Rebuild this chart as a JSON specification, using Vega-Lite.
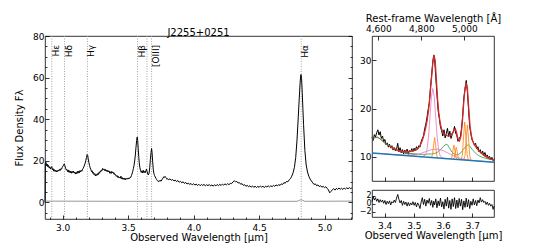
{
"$schema": "https://vega.github.io/schema/vega-lite/v6.json",
"padding": {"left": 14, "top": 12, "right": 5, "bottom": 5},
"config": {
 "font": "DejaVu Sans",
 "view": {"stroke": "black", "strokeWidth": 0.8},
 "axis": {"grid": false, "domain": false, "tickColor": "black", "tickWidth": 0.8, "labelFontSize": 9, "titleFontSize": 10, "titleFontWeight": "normal", "labelColor": "black", "titleColor": "black", "labelPadding": 2, "labelFont": "DejaVu Sans", "titleFont": "DejaVu Sans", "labelFlush": false, "labelOverlap": false},
 "title": {"font": "DejaVu Sans", "fontWeight": "normal", "fontSize": 10, "color": "black"}
},
"datasets": {
 "lines": [{"wl":2.917},{"wl":3.014},{"wl":3.189},{"wl":3.572},{"wl":3.644},{"wl":3.679},{"wl":4.822}],
 "labels": [{"wl":2.917,"t":"Hε"},{"wl":3.014,"t":"Hδ"},{"wl":3.189,"t":"Hγ"},{"wl":3.572,"t":"Hβ"},{"wl":3.679,"t":"[OIII]"},{"wl":4.822,"t":"Hα"}],
 "err": [{"wl":2.865,"f":0.6},{"wl":3.5,"f":0.5},{"wl":4.79,"f":0.5},{"wl":4.82,"f":1.3},{"wl":4.85,"f":0.5},{"wl":5.21,"f":0.6}],
 "spec": [
{"wl":2.865,"f":0},{"wl":2.867,"f":18.6},{"wl":2.872,"f":19.3},{"wl":2.877,"f":17.6},{"wl":2.882,"f":18.4},{"wl":2.887,"f":17.1},{"wl":2.892,"f":17.8},{"wl":2.897,"f":16.5},{"wl":2.902,"f":17.1},{"wl":2.907,"f":16.0},{"wl":2.912,"f":16.7},{"wl":2.917,"f":17.2},{"wl":2.922,"f":15.6},{"wl":2.927,"f":16.2},{"wl":2.932,"f":15.0},{"wl":2.937,"f":15.7},{"wl":2.942,"f":14.9},{"wl":2.947,"f":15.5},{"wl":2.952,"f":14.6},{"wl":2.957,"f":15.3},{"wl":2.962,"f":14.8},{"wl":2.967,"f":15.6},{"wl":2.972,"f":15.1},{"wl":2.977,"f":15.9},{"wl":2.982,"f":15.4},{"wl":2.987,"f":16.3},{"wl":2.992,"f":16.0},{"wl":2.997,"f":16.9},{"wl":3.002,"f":17.4},{"wl":3.007,"f":17.9},{"wl":3.012,"f":18.5},{"wl":3.017,"f":17.6},{"wl":3.022,"f":16.4},{"wl":3.027,"f":15.6},{"wl":3.032,"f":15.9},{"wl":3.037,"f":14.8},{"wl":3.042,"f":15.6},{"wl":3.047,"f":14.5},{"wl":3.052,"f":15.2},{"wl":3.057,"f":14.2},{"wl":3.062,"f":15.0},{"wl":3.067,"f":14.0},{"wl":3.072,"f":14.9},{"wl":3.077,"f":14.3},{"wl":3.082,"f":15.1},{"wl":3.087,"f":14.1},{"wl":3.092,"f":14.6},{"wl":3.097,"f":13.6},{"wl":3.102,"f":14.4},{"wl":3.107,"f":13.8},{"wl":3.112,"f":14.9},{"wl":3.117,"f":14.0},{"wl":3.122,"f":15.0},{"wl":3.127,"f":14.2},{"wl":3.132,"f":15.3},{"wl":3.137,"f":14.6},{"wl":3.142,"f":15.4},{"wl":3.147,"f":15.0},{"wl":3.152,"f":16.0},{"wl":3.157,"f":16.4},{"wl":3.162,"f":17.1},{"wl":3.167,"f":18.0},{"wl":3.172,"f":18.9},{"wl":3.177,"f":20.2},{"wl":3.182,"f":21.6},{"wl":3.187,"f":23.0},{"wl":3.191,"f":22.6},{"wl":3.195,"f":21.0},{"wl":3.200,"f":19.3},{"wl":3.205,"f":17.8},{"wl":3.210,"f":16.6},{"wl":3.215,"f":15.9},{"wl":3.220,"f":14.8},{"wl":3.225,"f":15.2},{"wl":3.230,"f":14.0},{"wl":3.235,"f":14.4},{"wl":3.240,"f":13.3},{"wl":3.245,"f":13.8},{"wl":3.250,"f":12.7},{"wl":3.255,"f":13.5},{"wl":3.260,"f":12.9},{"wl":3.265,"f":13.8},{"wl":3.270,"f":13.2},{"wl":3.275,"f":14.3},{"wl":3.280,"f":14.0},{"wl":3.285,"f":14.9},{"wl":3.290,"f":14.6},{"wl":3.295,"f":15.6},{"wl":3.300,"f":15.2},{"wl":3.305,"f":16.3},{"wl":3.310,"f":15.7},{"wl":3.315,"f":16.1},{"wl":3.320,"f":15.3},{"wl":3.325,"f":15.9},{"wl":3.330,"f":15.1},{"wl":3.335,"f":15.6},{"wl":3.340,"f":14.7},{"wl":3.345,"f":15.4},{"wl":3.350,"f":14.6},{"wl":3.355,"f":15.1},{"wl":3.360,"f":14.0},{"wl":3.365,"f":14.7},{"wl":3.370,"f":13.9},{"wl":3.375,"f":14.9},{"wl":3.380,"f":14.2},{"wl":3.385,"f":14.6},{"wl":3.390,"f":13.7},{"wl":3.395,"f":14.0},{"wl":3.400,"f":13.1},{"wl":3.405,"f":13.3},{"wl":3.410,"f":12.5},{"wl":3.415,"f":12.9},{"wl":3.420,"f":12.0},{"wl":3.425,"f":12.5},{"wl":3.430,"f":11.8},{"wl":3.435,"f":12.2},{"wl":3.440,"f":11.6},{"wl":3.445,"f":12.6},{"wl":3.450,"f":11.4},{"wl":3.455,"f":11.9},{"wl":3.460,"f":11.1},{"wl":3.465,"f":11.6},{"wl":3.470,"f":11.0},{"wl":3.475,"f":11.7},{"wl":3.480,"f":10.9},{"wl":3.485,"f":11.5},{"wl":3.490,"f":11.1},{"wl":3.495,"f":11.6},{"wl":3.500,"f":11.2},{"wl":3.505,"f":11.7},{"wl":3.510,"f":11.5},{"wl":3.515,"f":12.1},{"wl":3.520,"f":12.0},{"wl":3.525,"f":12.9},{"wl":3.530,"f":13.7},{"wl":3.535,"f":14.9},{"wl":3.540,"f":16.2},{"wl":3.545,"f":17.8},{"wl":3.550,"f":19.9},{"wl":3.555,"f":22.8},{"wl":3.560,"f":26.5},{"wl":3.565,"f":29.8},{"wl":3.569,"f":31.4},{"wl":3.573,"f":29.6},{"wl":3.577,"f":25.8},{"wl":3.581,"f":22.0},{"wl":3.585,"f":19.0},{"wl":3.590,"f":16.6},{"wl":3.595,"f":15.3},{"wl":3.600,"f":14.4},{"wl":3.605,"f":15.2},{"wl":3.610,"f":14.1},{"wl":3.615,"f":15.4},{"wl":3.620,"f":14.3},{"wl":3.625,"f":14.9},{"wl":3.630,"f":14.2},{"wl":3.635,"f":15.1},{"wl":3.640,"f":16.0},{"wl":3.645,"f":14.8},{"wl":3.650,"f":13.6},{"wl":3.655,"f":13.2},{"wl":3.660,"f":14.1},{"wl":3.665,"f":16.6},{"wl":3.670,"f":20.6},{"wl":3.675,"f":24.0},{"wl":3.679,"f":25.9},{"wl":3.683,"f":23.8},{"wl":3.687,"f":19.8},{"wl":3.692,"f":15.9},{"wl":3.697,"f":13.8},{"wl":3.702,"f":12.9},{"wl":3.707,"f":12.2},{"wl":3.712,"f":11.6},{"wl":3.717,"f":11.0},{"wl":3.722,"f":10.6},{"wl":3.727,"f":10.2},{"wl":3.732,"f":10.0},{"wl":3.737,"f":10.5},{"wl":3.742,"f":10.1},{"wl":3.747,"f":10.6},{"wl":3.752,"f":10.2},{"wl":3.757,"f":10.8},{"wl":3.762,"f":11.3},{"wl":3.767,"f":11.7},{"wl":3.772,"f":12.3},{"wl":3.777,"f":12.0},{"wl":3.782,"f":12.5},{"wl":3.787,"f":12.0},{"wl":3.792,"f":11.6},{"wl":3.797,"f":11.1},
{"wl":3.80,"f":11.4},{"wl":3.81,"f":10.9},{"wl":3.82,"f":11.3},{"wl":3.83,"f":10.6},{"wl":3.84,"f":11.0},{"wl":3.85,"f":10.3},{"wl":3.86,"f":10.7},{"wl":3.87,"f":10.0},{"wl":3.88,"f":10.5},{"wl":3.89,"f":9.7},{"wl":3.90,"f":10.1},{"wl":3.91,"f":9.4},{"wl":3.92,"f":9.9},{"wl":3.93,"f":9.1},{"wl":3.94,"f":9.6},{"wl":3.95,"f":8.8},{"wl":3.96,"f":9.3},{"wl":3.97,"f":8.6},{"wl":3.98,"f":9.1},{"wl":3.99,"f":8.4},{"wl":4.00,"f":9.0},{"wl":4.01,"f":8.3},{"wl":4.02,"f":8.8},{"wl":4.03,"f":8.1},{"wl":4.04,"f":8.7},{"wl":4.05,"f":8.0},{"wl":4.06,"f":8.6},{"wl":4.07,"f":8.1},{"wl":4.08,"f":8.7},{"wl":4.09,"f":7.9},{"wl":4.10,"f":8.5},{"wl":4.11,"f":8.0},{"wl":4.12,"f":8.6},{"wl":4.13,"f":7.9},{"wl":4.14,"f":8.4},{"wl":4.15,"f":7.8},{"wl":4.16,"f":8.5},{"wl":4.17,"f":7.9},{"wl":4.18,"f":8.6},{"wl":4.19,"f":8.0},{"wl":4.20,"f":8.7},{"wl":4.21,"f":8.1},{"wl":4.22,"f":8.8},{"wl":4.23,"f":8.3},{"wl":4.24,"f":8.9},{"wl":4.25,"f":8.4},{"wl":4.26,"f":9.0},{"wl":4.27,"f":8.5},{"wl":4.28,"f":9.1},{"wl":4.29,"f":9.0},{"wl":4.30,"f":9.8},{"wl":4.31,"f":10.4},{"wl":4.32,"f":9.9},{"wl":4.33,"f":10.1},{"wl":4.34,"f":9.3},{"wl":4.35,"f":9.5},{"wl":4.36,"f":8.7},{"wl":4.37,"f":9.0},{"wl":4.38,"f":8.2},{"wl":4.39,"f":8.5},{"wl":4.40,"f":7.7},{"wl":4.41,"f":8.2},{"wl":4.42,"f":7.5},{"wl":4.43,"f":8.0},{"wl":4.44,"f":7.3},{"wl":4.45,"f":7.9},{"wl":4.46,"f":7.2},{"wl":4.47,"f":7.8},{"wl":4.48,"f":7.1},{"wl":4.49,"f":7.7},{"wl":4.50,"f":7.2},{"wl":4.51,"f":7.9},{"wl":4.52,"f":7.3},{"wl":4.53,"f":7.8},{"wl":4.54,"f":7.1},{"wl":4.55,"f":7.8},{"wl":4.56,"f":7.4},{"wl":4.57,"f":8.0},{"wl":4.58,"f":7.4},{"wl":4.59,"f":8.0},{"wl":4.60,"f":7.5},{"wl":4.61,"f":8.2},{"wl":4.62,"f":7.7},{"wl":4.63,"f":8.4},{"wl":4.64,"f":7.9},{"wl":4.65,"f":8.6},{"wl":4.66,"f":8.1},{"wl":4.67,"f":8.9},{"wl":4.68,"f":8.6},{"wl":4.69,"f":9.5},{"wl":4.70,"f":9.2},{"wl":4.71,"f":10.1},{"wl":4.72,"f":9.9},{"wl":4.73,"f":10.8},{"wl":4.74,"f":11.4},{"wl":4.75,"f":12.6},{"wl":4.76,"f":14.2},{"wl":4.77,"f":16.8},{"wl":4.78,"f":21.5},{"wl":4.79,"f":30.0},{"wl":4.80,"f":41.5},{"wl":4.81,"f":53.5},{"wl":4.815,"f":58.8},{"wl":4.82,"f":61.5},{"wl":4.825,"f":59.5},{"wl":4.83,"f":52.5},{"wl":4.835,"f":45.0},{"wl":4.84,"f":37.5},{"wl":4.85,"f":25.0},{"wl":4.86,"f":18.0},{"wl":4.87,"f":14.6},{"wl":4.88,"f":12.6},{"wl":4.89,"f":11.2},{"wl":4.90,"f":10.3},{"wl":4.91,"f":9.4},{"wl":4.92,"f":8.6},{"wl":4.93,"f":8.9},{"wl":4.94,"f":8.0},{"wl":4.95,"f":8.4},{"wl":4.96,"f":7.6},{"wl":4.97,"f":8.0},{"wl":4.98,"f":7.3},{"wl":4.99,"f":7.7},{"wl":5.00,"f":7.1},{"wl":5.01,"f":7.5},{"wl":5.02,"f":6.8},{"wl":5.03,"f":6.0},{"wl":5.04,"f":4.6},{"wl":5.05,"f":5.3},{"wl":5.06,"f":6.1},{"wl":5.07,"f":6.6},{"wl":5.08,"f":5.9},{"wl":5.09,"f":6.7},{"wl":5.10,"f":6.2},{"wl":5.11,"f":6.9},{"wl":5.12,"f":6.3},{"wl":5.13,"f":6.8},{"wl":5.14,"f":6.2},{"wl":5.15,"f":6.9},{"wl":5.16,"f":6.4},{"wl":5.17,"f":7.0},{"wl":5.18,"f":6.5},{"wl":5.19,"f":7.1},{"wl":5.20,"f":6.6},{"wl":5.21,"f":7.0}
 ],
 "rspec": [
{"wl":3.357,"f":14.0},{"wl":3.361,"f":13.4},{"wl":3.365,"f":14.6},{"wl":3.369,"f":14.1},{"wl":3.373,"f":15.0},{"wl":3.377,"f":15.6},{"wl":3.381,"f":14.5},{"wl":3.385,"f":15.2},{"wl":3.389,"f":13.8},{"wl":3.393,"f":14.3},{"wl":3.397,"f":13.1},{"wl":3.401,"f":13.6},{"wl":3.405,"f":12.5},{"wl":3.409,"f":12.9},{"wl":3.413,"f":12.0},{"wl":3.417,"f":12.6},{"wl":3.421,"f":11.8},{"wl":3.425,"f":12.3},{"wl":3.429,"f":11.4},{"wl":3.433,"f":11.9},{"wl":3.437,"f":11.2},{"wl":3.441,"f":11.6},{"wl":3.445,"f":12.8},{"wl":3.449,"f":11.0},{"wl":3.453,"f":11.9},{"wl":3.457,"f":10.8},{"wl":3.461,"f":11.5},{"wl":3.465,"f":10.6},{"wl":3.469,"f":11.4},{"wl":3.473,"f":10.7},{"wl":3.477,"f":11.6},{"wl":3.481,"f":10.5},{"wl":3.485,"f":11.3},{"wl":3.489,"f":11.0},{"wl":3.493,"f":11.7},{"wl":3.497,"f":11.1},{"wl":3.501,"f":11.8},{"wl":3.505,"f":11.3},{"wl":3.509,"f":12.1},{"wl":3.513,"f":11.6},{"wl":3.517,"f":12.3},{"wl":3.521,"f":12.0},{"wl":3.525,"f":13.1},{"wl":3.529,"f":13.8},{"wl":3.533,"f":14.3},{"wl":3.537,"f":15.8},{"wl":3.541,"f":16.8},{"wl":3.545,"f":18.2},{"wl":3.549,"f":19.8},{"wl":3.553,"f":21.2},{"wl":3.557,"f":24.5},{"wl":3.561,"f":27.0},{"wl":3.565,"f":29.8},{"wl":3.568,"f":31.0},{"wl":3.571,"f":30.2},{"wl":3.575,"f":26.5},{"wl":3.579,"f":22.8},{"wl":3.583,"f":19.6},{"wl":3.587,"f":18.0},{"wl":3.591,"f":16.2},{"wl":3.595,"f":15.4},{"wl":3.599,"f":14.3},{"wl":3.603,"f":15.6},{"wl":3.607,"f":13.9},{"wl":3.611,"f":14.8},{"wl":3.615,"f":15.9},{"wl":3.619,"f":14.2},{"wl":3.623,"f":15.3},{"wl":3.627,"f":13.8},{"wl":3.631,"f":14.6},{"wl":3.635,"f":15.2},{"wl":3.639,"f":16.3},{"wl":3.643,"f":14.9},{"wl":3.647,"f":14.4},{"wl":3.651,"f":13.2},{"wl":3.655,"f":13.8},{"wl":3.659,"f":14.2},{"wl":3.663,"f":15.8},{"wl":3.667,"f":18.6},{"wl":3.671,"f":22.3},{"wl":3.675,"f":24.0},{"wl":3.679,"f":25.8},{"wl":3.683,"f":23.5},{"wl":3.687,"f":19.8},{"wl":3.691,"f":16.2},{"wl":3.695,"f":14.8},{"wl":3.699,"f":13.5},{"wl":3.703,"f":13.1},{"wl":3.707,"f":12.4},{"wl":3.711,"f":12.8},{"wl":3.715,"f":11.7},{"wl":3.719,"f":12.1},{"wl":3.723,"f":11.0},{"wl":3.727,"f":11.5},{"wl":3.731,"f":10.6},{"wl":3.735,"f":11.2},{"wl":3.739,"f":10.3},{"wl":3.743,"f":10.9},{"wl":3.747,"f":10.0},{"wl":3.751,"f":10.4},{"wl":3.755,"f":9.8},{"wl":3.759,"f":10.1},{"wl":3.763,"f":9.4},{"wl":3.767,"f":9.9},{"wl":3.771,"f":9.2},{"wl":3.774,"f":9.5}
 ],
 "resid": [
{"wl":3.357,"r":0.5},{"wl":3.361,"r":1.8},{"wl":3.365,"r":0.9},{"wl":3.369,"r":1.5},{"wl":3.373,"r":0.6},{"wl":3.377,"r":1.2},{"wl":3.381,"r":0.3},{"wl":3.385,"r":1.0},{"wl":3.389,"r":0.4},{"wl":3.393,"r":0.9},{"wl":3.397,"r":0.1},{"wl":3.401,"r":0.8},{"wl":3.405,"r":-0.2},{"wl":3.409,"r":0.6},{"wl":3.413,"r":0.0},{"wl":3.417,"r":0.7},{"wl":3.421,"r":-0.3},{"wl":3.425,"r":0.5},{"wl":3.429,"r":0.2},{"wl":3.433,"r":0.9},{"wl":3.437,"r":0.3},{"wl":3.441,"r":1.4},{"wl":3.445,"r":2.3},{"wl":3.449,"r":1.1},{"wl":3.453,"r":0.2},{"wl":3.457,"r":0.8},{"wl":3.461,"r":-0.4},{"wl":3.465,"r":0.6},{"wl":3.469,"r":-0.2},{"wl":3.473,"r":0.4},{"wl":3.477,"r":-0.6},{"wl":3.481,"r":0.3},{"wl":3.485,"r":-0.5},{"wl":3.489,"r":0.2},{"wl":3.493,"r":-0.3},{"wl":3.497,"r":0.5},{"wl":3.501,"r":-0.4},{"wl":3.505,"r":0.3},{"wl":3.509,"r":-0.8},{"wl":3.513,"r":0.2},{"wl":3.517,"r":-0.3},{"wl":3.521,"r":-1.2},{"wl":3.525,"r":0.4},{"wl":3.529,"r":1.5},{"wl":3.533,"r":-0.2},{"wl":3.537,"r":1.1},{"wl":3.541,"r":-0.6},{"wl":3.545,"r":0.9},{"wl":3.549,"r":0.1},{"wl":3.553,"r":1.3},{"wl":3.557,"r":-0.4},{"wl":3.561,"r":0.8},{"wl":3.565,"r":-0.9},{"wl":3.568,"r":0.6},{"wl":3.571,"r":-0.3},{"wl":3.575,"r":1.2},{"wl":3.579,"r":-1.0},{"wl":3.583,"r":0.7},{"wl":3.587,"r":-0.5},{"wl":3.591,"r":1.4},{"wl":3.595,"r":-0.8},{"wl":3.599,"r":0.5},{"wl":3.603,"r":-1.3},{"wl":3.607,"r":1.1},{"wl":3.611,"r":-0.6},{"wl":3.615,"r":1.6},{"wl":3.619,"r":-1.1},{"wl":3.623,"r":0.8},{"wl":3.627,"r":-1.4},{"wl":3.631,"r":1.2},{"wl":3.635,"r":-0.7},{"wl":3.639,"r":1.5},{"wl":3.643,"r":-1.2},{"wl":3.647,"r":0.9},{"wl":3.651,"r":-1.0},{"wl":3.655,"r":1.3},{"wl":3.659,"r":-0.6},{"wl":3.663,"r":1.1},{"wl":3.667,"r":-1.5},{"wl":3.671,"r":0.7},{"wl":3.675,"r":-0.9},{"wl":3.679,"r":1.4},{"wl":3.683,"r":-0.8},{"wl":3.687,"r":1.0},{"wl":3.691,"r":-1.2},{"wl":3.695,"r":0.6},{"wl":3.699,"r":-0.4},{"wl":3.703,"r":1.2},{"wl":3.707,"r":-0.3},{"wl":3.711,"r":0.8},{"wl":3.715,"r":-0.5},{"wl":3.719,"r":0.9},{"wl":3.723,"r":0.2},{"wl":3.727,"r":1.5},{"wl":3.731,"r":0.4},{"wl":3.735,"r":1.0},{"wl":3.739,"r":0.3},{"wl":3.743,"r":0.6},{"wl":3.747,"r":-0.2},{"wl":3.751,"r":0.4},{"wl":3.755,"r":-0.4},{"wl":3.759,"r":0.1},{"wl":3.763,"r":-0.6},{"wl":3.767,"r":-0.2},{"wl":3.771,"r":-1.4},{"wl":3.774,"r":-0.6}
 ],
 "model": [
{"c":"fe","g":"fe","wl":3.357,"f":13.8},{"c":"fe","g":"fe","wl":3.37,"f":14.0},{"c":"fe","g":"fe","wl":3.38,"f":13.9},{"c":"fe","g":"fe","wl":3.39,"f":13.5},{"c":"fe","g":"fe","wl":3.40,"f":13.0},{"c":"fe","g":"fe","wl":3.41,"f":12.6},{"c":"fe","g":"fe","wl":3.42,"f":12.2},{"c":"fe","g":"fe","wl":3.43,"f":11.8},{"c":"fe","g":"fe","wl":3.44,"f":11.5},{"c":"fe","g":"fe","wl":3.45,"f":11.2},{"c":"fe","g":"fe","wl":3.46,"f":11.0},{"c":"fe","g":"fe","wl":3.47,"f":10.9},{"c":"fe","g":"fe","wl":3.48,"f":10.8},{"c":"fe","g":"fe","wl":3.49,"f":10.7},{"c":"fe","g":"fe","wl":3.50,"f":10.6},{"c":"fe","g":"fe","wl":3.51,"f":10.6},{"c":"fe","g":"fe","wl":3.52,"f":10.5},{"c":"fe","g":"fe","wl":3.53,"f":10.5},{"c":"fe","g":"fe","wl":3.54,"f":10.5},{"c":"fe","g":"fe","wl":3.55,"f":10.6},{"c":"fe","g":"fe","wl":3.56,"f":10.6},{"c":"fe","g":"fe","wl":3.57,"f":10.7},{"c":"fe","g":"fe","wl":3.58,"f":10.9},{"c":"fe","g":"fe","wl":3.59,"f":11.4},{"c":"fe","g":"fe","wl":3.60,"f":12.1},{"c":"fe","g":"fe","wl":3.61,"f":12.6},{"c":"fe","g":"fe","wl":3.615,"f":12.5},{"c":"fe","g":"fe","wl":3.62,"f":12.0},{"c":"fe","g":"fe","wl":3.63,"f":11.0},{"c":"fe","g":"fe","wl":3.64,"f":10.5},{"c":"fe","g":"fe","wl":3.65,"f":10.4},{"c":"fe","g":"fe","wl":3.66,"f":10.8},{"c":"fe","g":"fe","wl":3.67,"f":11.6},{"c":"fe","g":"fe","wl":3.68,"f":12.3},{"c":"fe","g":"fe","wl":3.686,"f":12.5},{"c":"fe","g":"fe","wl":3.69,"f":12.3},{"c":"fe","g":"fe","wl":3.70,"f":11.5},{"c":"fe","g":"fe","wl":3.71,"f":10.8},{"c":"fe","g":"fe","wl":3.72,"f":10.3},{"c":"fe","g":"fe","wl":3.73,"f":10.0},{"c":"fe","g":"fe","wl":3.74,"f":9.8},{"c":"fe","g":"fe","wl":3.75,"f":9.6},{"c":"fe","g":"fe","wl":3.76,"f":9.5},{"c":"fe","g":"fe","wl":3.774,"f":9.4},
{"c":"fe2","g":"fe2","wl":3.357,"f":13.5},{"c":"fe2","g":"fe2","wl":3.365,"f":13.9},{"c":"fe2","g":"fe2","wl":3.375,"f":14.1},{"c":"fe2","g":"fe2","wl":3.385,"f":13.7},{"c":"fe2","g":"fe2","wl":3.395,"f":13.1},{"c":"fe2","g":"fe2","wl":3.405,"f":12.6},{"c":"fe2","g":"fe2","wl":3.415,"f":12.2},{"c":"fe2","g":"fe2","wl":3.43,"f":11.6},{"c":"fe2","g":"fe2","wl":3.45,"f":11.1},{"c":"fe2","g":"fe2","wl":3.47,"f":10.8},{"c":"fe2","g":"fe2","wl":3.49,"f":10.6},{"c":"fe2","g":"fe2","wl":3.51,"f":10.5},
{"c":"b1","g":"b","wl":3.52,"f":10.06},{"c":"b1","g":"b","wl":3.53,"f":10.03},{"c":"b1","g":"b","wl":3.54,"f":10.41},{"c":"b1","g":"b","wl":3.545,"f":11.5},{"c":"b1","g":"b","wl":3.55,"f":14.0},{"c":"b1","g":"b","wl":3.555,"f":18.1},{"c":"b1","g":"b","wl":3.56,"f":22.4},{"c":"b1","g":"b","wl":3.565,"f":24.15},{"c":"b1","g":"b","wl":3.57,"f":22.3},{"c":"b1","g":"b","wl":3.575,"f":18.0},{"c":"b1","g":"b","wl":3.58,"f":13.9},{"c":"b1","g":"b","wl":3.585,"f":11.3},{"c":"b1","g":"b","wl":3.59,"f":10.2},{"c":"b1","g":"b","wl":3.60,"f":9.71},{"c":"b1","g":"b","wl":3.61,"f":9.65},
{"c":"b2","g":"b","wl":3.40,"f":10.60},{"c":"b2","g":"b","wl":3.45,"f":10.39},{"c":"b2","g":"b","wl":3.48,"f":10.32},{"c":"b2","g":"b","wl":3.50,"f":10.39},{"c":"b2","g":"b","wl":3.52,"f":10.65},{"c":"b2","g":"b","wl":3.54,"f":11.06},{"c":"b2","g":"b","wl":3.56,"f":11.47},{"c":"b2","g":"b","wl":3.58,"f":11.58},{"c":"b2","g":"b","wl":3.60,"f":11.28},{"c":"b2","g":"b","wl":3.62,"f":10.69},{"c":"b2","g":"b","wl":3.64,"f":10.10},{"c":"b2","g":"b","wl":3.66,"f":9.66},{"c":"b2","g":"b","wl":3.68,"f":9.41},{"c":"b2","g":"b","wl":3.70,"f":9.26},{"c":"b2","g":"b","wl":3.73,"f":9.10},{"c":"b2","g":"b","wl":3.774,"f":8.90},
{"c":"n1","g":"n","wl":3.5605,"f":9.93},{"c":"n1","g":"n","wl":3.564,"f":10.43},{"c":"n1","g":"n","wl":3.5675,"f":12.4},{"c":"n1","g":"n","wl":3.571,"f":14.0},{"c":"n1","g":"n","wl":3.5745,"f":12.35},{"c":"n1","g":"n","wl":3.578,"f":10.36},{"c":"n1","g":"n","wl":3.5815,"f":9.83},
{"c":"n2","g":"n","wl":3.6265,"f":9.58},{"c":"n2","g":"n","wl":3.630,"f":9.93},{"c":"n2","g":"n","wl":3.6335,"f":11.28},{"c":"n2","g":"n","wl":3.637,"f":12.42},{"c":"n2","g":"n","wl":3.6405,"f":11.26},{"c":"n2","g":"n","wl":3.644,"f":9.9},{"c":"n2","g":"n","wl":3.6475,"f":9.52},
{"c":"n3","g":"n","wl":3.6345,"f":9.55},{"c":"n3","g":"n","wl":3.638,"f":9.83},{"c":"n3","g":"n","wl":3.6415,"f":11.0},{"c":"n3","g":"n","wl":3.645,"f":11.98},{"c":"n3","g":"n","wl":3.6485,"f":10.98},{"c":"n3","g":"n","wl":3.652,"f":9.79},{"c":"n3","g":"n","wl":3.6555,"f":9.48},
{"c":"n4","g":"n","wl":3.662,"f":9.45},{"c":"n4","g":"n","wl":3.666,"f":10.42},{"c":"n4","g":"n","wl":3.670,"f":14.12},{"c":"n4","g":"n","wl":3.674,"f":17.2},{"c":"n4","g":"n","wl":3.678,"f":14.12},{"c":"n4","g":"n","wl":3.682,"f":10.42},{"c":"n4","g":"n","wl":3.686,"f":9.45},
{"c":"n5","g":"n","wl":3.671,"f":9.40},{"c":"n5","g":"n","wl":3.675,"f":10.30},{"c":"n5","g":"n","wl":3.679,"f":13.74},{"c":"n5","g":"n","wl":3.683,"f":16.6},{"c":"n5","g":"n","wl":3.687,"f":13.74},{"c":"n5","g":"n","wl":3.691,"f":10.30},{"c":"n5","g":"n","wl":3.695,"f":9.40}
 ],
 "cont": [{"wl":3.357,"f":10.8},{"wl":3.774,"f":8.9}],
 "total": [
{"wl":3.42,"f":12.1},{"wl":3.43,"f":11.8},{"wl":3.44,"f":11.5},{"wl":3.45,"f":11.3},{"wl":3.46,"f":11.2},{"wl":3.47,"f":11.1},{"wl":3.48,"f":11.1},{"wl":3.49,"f":11.2},{"wl":3.50,"f":11.3},{"wl":3.51,"f":11.5},{"wl":3.515,"f":11.8},{"wl":3.52,"f":12.2},{"wl":3.525,"f":12.8},{"wl":3.53,"f":13.6},{"wl":3.535,"f":14.6},{"wl":3.54,"f":15.9},{"wl":3.545,"f":17.4},{"wl":3.55,"f":19.5},{"wl":3.555,"f":22.5},{"wl":3.56,"f":26.0},{"wl":3.565,"f":29.5},{"wl":3.569,"f":31.1},{"wl":3.573,"f":29.8},{"wl":3.577,"f":26.0},{"wl":3.581,"f":22.0},{"wl":3.585,"f":19.2},{"wl":3.59,"f":17.0},{"wl":3.595,"f":15.7},{"wl":3.60,"f":15.0},{"wl":3.607,"f":14.6},{"wl":3.613,"f":14.4},{"wl":3.62,"f":14.3},{"wl":3.627,"f":14.5},{"wl":3.633,"f":15.0},{"wl":3.638,"f":15.6},{"wl":3.642,"f":15.8},{"wl":3.646,"f":15.0},{"wl":3.651,"f":13.7},{"wl":3.656,"f":13.3},{"wl":3.661,"f":14.3},{"wl":3.666,"f":17.3},{"wl":3.671,"f":21.6},{"wl":3.675,"f":24.2},{"wl":3.679,"f":25.3},{"wl":3.683,"f":24.2},{"wl":3.687,"f":20.6},{"wl":3.692,"f":16.4},{"wl":3.697,"f":14.2},{"wl":3.703,"f":13.0},{"wl":3.710,"f":12.2},{"wl":3.720,"f":11.4},{"wl":3.730,"f":10.8},{"wl":3.740,"f":10.3},{"wl":3.750,"f":9.9},{"wl":3.760,"f":9.6},{"wl":3.774,"f":9.4}
 ],
 "restd": [{"rest":4600},{"rest":5000}]
},
"hconcat": [
 {
  "width": 307, "height": 183,
  "title": {"text": "J2255+0251", "fontSize": 10, "fontWeight": "normal", "offset": -6, "anchor": "middle"},
  "layer": [
   {"data": {"name": "lines"}, "mark": {"type": "rule", "color": "#999999", "strokeDash": [1, 1.5], "strokeWidth": 0.9},
    "encoding": {"x": {"field": "wl", "type": "quantitative", "scale": {"domain": [2.865, 5.21], "nice": false, "zero": false},
      "axis": {"orient": "bottom", "title": "Observed Wavelength [μm]", "values": [3.0, 3.5, 4.0, 4.5, 5.0], "format": ".1f",
       "labelPadding": 8, "tickSize": -4, "titlePadding": 0}}}},
   {"data": {"name": "labels"}, "mark": {"type": "text", "angle": 270, "align": "right", "baseline": "top", "fontSize": 9, "font": "DejaVu Sans", "color": "black"},
    "encoding": {"x": {"field": "wl", "type": "quantitative", "axis": null}, "y": {"datum": 75.7, "type": "quantitative", "axis": null}, "text": {"field": "t"}}},
   {"data": {"name": "err"}, "mark": {"type": "line", "color": "#999999", "strokeWidth": 1},
    "encoding": {"x": {"field": "wl", "type": "quantitative",
      "axis": {"orient": "bottom", "labels": false, "title": null, "tickSize": -2, "values": [2.9,3.1,3.2,3.3,3.4,3.6,3.7,3.8,3.9,4.1,4.2,4.3,4.4,4.6,4.7,4.8,4.9,5.1,5.2]}},
     "y": {"field": "f", "type": "quantitative",
      "axis": {"orient": "right", "labels": false, "title": null, "values": [0, 20, 40, 60, 80], "tickSize": -4}}}},
   {"data": {"name": "spec"}, "mark": {"type": "line", "color": "black", "strokeWidth": 1},
    "encoding": {"x": {"field": "wl", "type": "quantitative", "axis": null}, "y": {"field": "f", "type": "quantitative", "scale": {"domain": [-8, 80], "nice": false, "zero": false},
      "axis": {"orient": "left", "title": "Flux Density Fλ", "values": [0, 20, 40, 60, 80], "labelPadding": 5, "tickSize": -4, "titlePadding": 8}}}},
   {"data": {"name": "err"}, "mark": {"type": "line", "opacity": 0},
    "encoding": {"x": {"field": "wl", "type": "quantitative", "axis": null}, "y": {"field": "f", "type": "quantitative",
      "axis": {"orient": "left", "labels": false, "title": null, "tickSize": -2, "values": [-5,5,10,15,25,30,35,45,50,55,65,70,75]}}}},
   {"data": {"name": "err"}, "mark": {"type": "line", "opacity": 0},
    "encoding": {"x": {"field": "wl", "type": "quantitative", "axis": null}, "y": {"field": "f", "type": "quantitative",
      "axis": {"orient": "right", "labels": false, "title": null, "tickSize": -2, "values": [-5,5,10,15,25,30,35,45,50,55,65,70,75]}}}}
  ],
  "resolve": {"axis": {"x": "independent", "y": "independent"}}
 },
 {
  "vconcat": [
   {
    "width": 122, "height": 145,
    "layer": [
     {
      "layer": [
       {"data": {"name": "rspec"}, "mark": {"type": "line", "color": "black", "strokeWidth": 1},
        "encoding": {"x": {"field": "wl", "type": "quantitative", "scale": {"domain": [3.357, 3.774], "nice": false, "zero": false},
          "axis": {"orient": "bottom", "title": null, "labels": false, "values": [3.4, 3.5, 3.6, 3.7], "tickSize": -4}},
         "y": {"field": "f", "type": "quantitative", "scale": {"domain": [5, 35], "nice": false, "zero": false},
          "axis": {"orient": "left", "title": null, "values": [10, 20, 30], "labelPadding": 5, "tickSize": -4}}}},
       {"data": {"name": "model"}, "mark": {"type": "line", "strokeWidth": 0.8},
        "encoding": {"x": {"field": "wl", "type": "quantitative"},
         "y": {"field": "f", "type": "quantitative"},
         "color": {"field": "g", "type": "nominal", "scale": {"domain": ["fe2", "fe", "b", "n"], "range": ["#8c564b", "#2ca02c", "#e377c2", "#ff7f0e"]}, "legend": null},
         "detail": {"field": "c"}}},
       {"data": {"name": "cont"}, "mark": {"type": "line", "color": "#1f77b4", "strokeWidth": 1.5},
        "encoding": {"x": {"field": "wl", "type": "quantitative"}, "y": {"field": "f", "type": "quantitative"}}},
       {"data": {"name": "total"}, "mark": {"type": "line", "color": "#d62728", "strokeWidth": 1.3},
        "encoding": {"x": {"field": "wl", "type": "quantitative"}, "y": {"field": "f", "type": "quantitative"}}}
      ]
     },
     {"data": {"name": "restd"}, "mark": {"type": "point", "opacity": 0},
      "encoding": {"x": {"field": "rest", "type": "quantitative", "scale": {"domain": [4570.5, 5138.2], "nice": false, "zero": false},
        "axis": {"orient": "top", "title": "Rest-frame Wavelength [Å]", "values": [4600, 4800, 5000], "labelExpr": "format(datum.value, ',.0f')",
         "labelPadding": 7, "tickSize": -4, "titlePadding": 1}}}}
    ],
    "resolve": {"scale": {"x": "independent"}, "axis": {"x": "independent", "y": "independent"}}
   },
   {
    "width": 122, "height": 27,
    "data": {"name": "resid"}, "mark": {"type": "line", "color": "black", "strokeWidth": 0.9},
    "encoding": {"x": {"field": "wl", "type": "quantitative", "scale": {"domain": [3.357, 3.774], "nice": false, "zero": false},
      "axis": {"orient": "bottom", "title": "Observed Wavelength [μm]", "values": [3.4, 3.5, 3.6, 3.7], "format": ".1f",
       "labelPadding": 8, "tickSize": -4, "titlePadding": 0}},
     "y": {"field": "r", "type": "quantitative", "scale": {"domain": [-3.3, 3.4], "nice": false, "zero": false},
      "axis": {"orient": "left", "title": null, "values": [-2, 0, 2], "tickSize": -3, "labelFontSize": 8, "labelPadding": 4}}}
   }
  ],
  "spacing": 9,
  "bounds": "flush"
 }
],
"spacing": 20,
"bounds": "flush"
}
